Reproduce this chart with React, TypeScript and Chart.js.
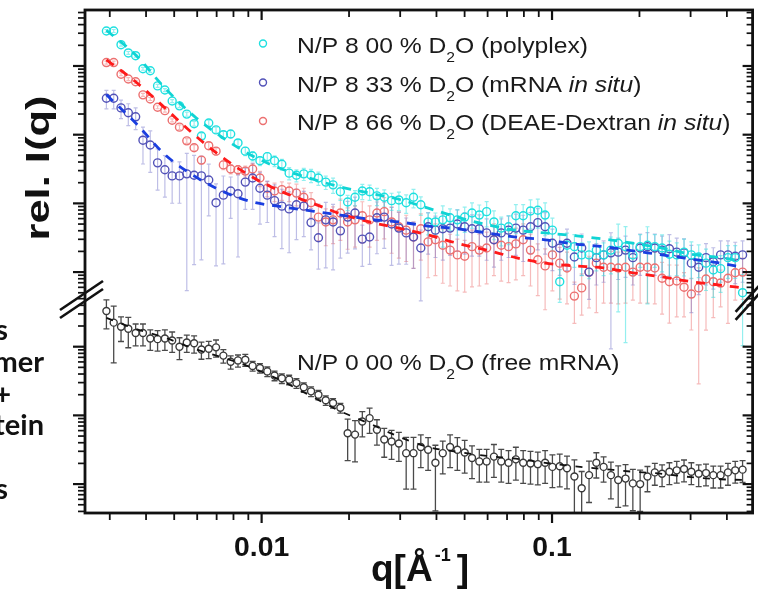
import React, { useEffect, useRef } from 'react';
import { Chart, registerables } from 'chart.js';

Chart.register(...registerables);

// q grid [1/Å] shared by all four curves
const Q = [
  0.002921, 0.003095, 0.00328, 0.003475, 0.003683, 0.003903, 0.004136, 0.004383, 0.004644, 0.00492,
  0.005214, 0.005525, 0.005855, 0.006204, 0.006575, 0.006967, 0.007384, 0.007824, 0.008291, 0.008786,
  0.009311, 0.009867, 0.01046, 0.01108, 0.01174, 0.01244, 0.01318, 0.01397, 0.0148, 0.01569,
  0.01663, 0.01762, 0.01867, 0.01978, 0.02097, 0.02222, 0.02354, 0.02495, 0.02644, 0.02802,
  0.02969, 0.03146, 0.03334, 0.03533, 0.03744, 0.03967, 0.04205, 0.04456, 0.04721, 0.05003,
  0.05302, 0.05618, 0.05954, 0.06309, 0.06685, 0.07084, 0.07507, 0.07955, 0.08431, 0.08933,
  0.09467, 0.1003, 0.1063, 0.1126, 0.1194, 0.1265, 0.1341, 0.1421, 0.1505, 0.1595,
  0.169, 0.1791, 0.1898, 0.2011, 0.2131, 0.2259, 0.2393, 0.2536, 0.2688, 0.2848,
  0.3018, 0.3199, 0.339, 0.3592, 0.3806, 0.4034, 0.4274, 0.453,
];

// log10 of rel. I(q) (upper panel)
const CYAN_LOG_I = [
  4.51, 4.51, 4.31, 4.19, 4.15, 3.96, 3.93, 3.71, 3.65, 3.49,
  3.42, 3.3, 3.16, 2.98, 3.17, 3.07, 3.0, 3.01, 2.88, 2.76,
  2.69, 2.62, 2.68, 2.62, 2.57, 2.44, 2.41, 2.43, 2.41, 2.37,
  2.31, 2.27, 2.17, 2.02, 2.09, 2.18, 2.17, 2.11, 2.09, 2.04,
  2.05, 2.01, 2.09, 1.98, 1.73, 1.73, 1.76, 1.79, 1.76, 1.8,
  1.86, 1.83, 1.88, 1.73, 1.64, 1.66, 1.82, 1.82, 1.89, 1.9,
  1.83, 1.61, 0.86, 1.39, 1.37, 1.25, 1.25, 1.32, 1.25, 1.32,
  1.42, 1.37, 1.25, 1.37, 1.39, 1.37, 1.35, 1.26, 1.25, 1.29,
  1.25, 1.22, 1.13, 1.03, 1.05, 1.21, 1.21, 0.7,
];
const BLUE_LOG_I = [
  3.53, 3.53, 3.39, 3.32, 3.26, 2.92, 2.85, 2.59, 2.49, 2.4,
  2.4, 2.43, 2.41, 2.4, 2.34, 2.01, 2.12, 2.18, 2.14, 2.31,
  2.37, 2.22, 2.12, 2.04, 1.96, 1.92, 1.98, 1.96, 1.72, 1.5,
  1.76, 1.73, 1.6, 1.8, 1.86, 1.48, 1.51, 1.79, 1.8, 1.7,
  1.64, 1.57, 1.51, 1.35, 1.66, 1.61, 1.63, 1.64, 1.7, 1.66,
  1.63, 1.63, 1.57, 1.47, 1.57, 1.61, 1.64, 1.61, 1.66, 1.72,
  1.66, 1.42, 1.35, 1.42, 1.22, 1.35, 1.0, 1.21, 1.25, 1.28,
  1.29, 1.32, 1.21, 1.35, 1.37, 1.35, 1.32, 1.34, 1.29, 1.28,
  1.13, 1.07, 1.21, 1.15, 1.25, 1.25, 1.23, 1.25,
];
const RED_LOG_I = [
  4.05, 4.05, 3.88, 3.81, 3.77, 3.58, 3.52, 3.4, 3.35, 3.21,
  3.11, 2.91, 2.81, 2.63, 2.84, 2.76, 2.56, 2.5, 2.49, 2.47,
  2.5, 2.37, 2.22, 2.18, 2.2, 2.18, 2.15, 2.09, 2.01, 1.8,
  1.73, 1.76, 1.86, 1.73, 1.76, 1.82, 1.76, 1.86, 1.88, 1.73,
  1.66, 1.61, 1.51, 1.63, 1.44, 1.47, 1.39, 1.32, 1.25, 1.23,
  1.37, 1.32, 1.35, 1.47, 1.39, 1.37, 1.41, 1.47, 1.32, 1.18,
  1.09, 1.25, 1.13, 1.06, 0.65, 0.77, 1.0, 1.13, 1.07, 1.07,
  1.06, 1.07, 1.0, 1.07, 1.07, 1.06, 0.91, 0.86, 0.87, 0.78,
  0.68, 0.77, 0.9, 0.86, 0.84, 0.91, 0.99, 1.0,
];
// log10 of rel. I(q), lower panel (free mRNA)
const BLACK_LOG_I = [
  3.52, 3.35, 3.29, 3.26, 3.2, 3.2, 3.12, 3.11, 3.12, 3.09,
  3.0, 3.06, 3.05, 2.96, 2.97, 2.99, 2.87, 2.78, 2.8, 2.81,
  2.72, 2.69, 2.64, 2.58, 2.54, 2.52, 2.47, 2.41, 2.35, 2.3,
  2.22, 2.18, 2.11, 1.74, 1.72, 1.91, 1.96, 1.79, 1.65, 1.62,
  1.59, 1.45, 1.45, 1.54, 1.5, 1.31, 1.45, 1.54, 1.5, 1.46,
  1.38, 1.33, 1.33, 1.4, 1.33, 1.31, 1.36, 1.31, 1.3, 1.29,
  1.31, 1.25, 1.26, 1.23, 1.11, 0.94, 1.13, 1.31, 1.25, 1.13,
  1.06, 1.08, 1.01, 1.0, 1.11, 1.17, 1.15, 1.18, 1.2, 1.22,
  1.18, 1.15, 1.16, 1.13, 1.13, 1.17, 1.2, 1.21,
];

// relative errors sigma / I
const CYAN_REL_ERR = [
  0.05, 0.05, 0.05, 0.05, 0.05, 0.05, 0.05, 0.05, 0.05, 0.05,
  0.06, 0.07, 0.08, 0.1, 0.1, 0.1, 0.12, 0.12, 0.12, 0.14,
  0.15, 0.15, 0.15, 0.18, 0.18, 0.2, 0.2, 0.2, 0.22, 0.22,
  0.22, 0.25, 0.25, 0.25, 0.25, 0.25, 0.25, 0.28, 0.28, 0.28,
  0.3, 0.3, 0.3, 0.3, 0.35, 0.35, 0.6, 0.35, 0.4, 0.4,
  0.4, 0.4, 0.4, 0.45, 0.45, 0.45, 0.45, 0.45, 0.45, 0.45,
  0.5, 0.5, 0.5, 0.5, 0.5, 0.5, 0.55, 0.5, 0.5, 0.55,
  0.9, 0.96, 0.5, 0.5, 0.86, 0.5, 0.55, 0.55, 0.5, 0.55,
  0.55, 0.5, 0.6, 0.6, 0.55, 0.5, 0.5, 0.83,
];
const BLUE_REL_ERR = [
  0.3, 0.3, 0.3, 0.35, 0.35, 0.55, 0.6, 0.6, 0.6, 0.6,
  0.6, 0.98, 0.95, 0.94, 0.7, 0.88, 0.9, 0.6, 0.88, 0.6,
  0.65, 0.7, 0.6, 0.7, 0.76, 0.77, 0.69, 0.64, 0.6, 0.65,
  0.8, 0.8, 0.6, 0.7, 0.7, 0.6, 0.6, 0.7, 0.65, 0.75,
  0.7, 0.65, 0.65, 0.83, 0.6, 0.6, 0.65, 0.6, 0.6, 0.6,
  0.6, 0.6, 0.6, 0.6, 0.6, 0.6, 0.6, 0.65, 0.6, 0.6,
  0.6, 0.6, 0.6, 0.6, 0.6, 0.6, 0.6, 0.6, 0.6, 0.96,
  0.6, 0.6, 0.6, 0.6, 0.6, 0.6, 0.6, 0.6, 0.6, 0.6,
  0.81, 0.6, 0.6, 0.6, 0.6, 0.6, 0.6, 0.6,
];
const RED_REL_ERR = [
  0.05, 0.05, 0.05, 0.05, 0.05, 0.05, 0.05, 0.05, 0.05, 0.05,
  0.08, 0.08, 0.1, 0.12, 0.12, 0.12, 0.15, 0.15, 0.15, 0.18,
  0.2, 0.25, 0.25, 0.3, 0.3, 0.3, 0.35, 0.35, 0.4, 0.55,
  0.55, 0.55, 0.6, 0.6, 0.6, 0.6, 0.6, 0.6, 0.6, 0.65,
  0.65, 0.65, 0.65, 0.65, 0.7, 0.7, 0.72, 0.7, 0.7, 0.7,
  0.74, 0.7, 0.7, 0.7, 0.7, 0.7, 0.7, 0.7, 0.7, 0.7,
  0.77, 0.7, 0.7, 0.7, 0.6, 0.6, 0.7, 0.81, 0.7, 0.7,
  0.7, 0.7, 0.61, 0.7, 0.7, 0.7, 0.7, 0.75, 0.7, 0.63,
  0.7, 0.96, 0.82, 0.7, 0.55, 0.78, 0.6, 0.6,
];
const BLACK_REL_ERR = [
  0.45, 0.74, 0.39, 0.47, 0.35, 0.35, 0.33, 0.33, 0.33, 0.33,
  0.35, 0.28, 0.28, 0.28, 0.28, 0.28, 0.22, 0.22, 0.2, 0.2,
  0.16, 0.16, 0.16, 0.16, 0.16, 0.16, 0.16, 0.16, 0.16, 0.16,
  0.16, 0.16, 0.16, 0.6, 0.6, 0.4, 0.4, 0.4, 0.45, 0.45,
  0.45, 0.7, 0.7, 0.5, 0.5, 0.8, 0.5, 0.5, 0.5, 0.5,
  0.5, 0.5, 0.5, 0.5, 0.5, 0.5, 0.5, 0.5, 0.5, 0.5,
  0.5, 0.5, 0.5, 0.5, 0.75, 0.75, 0.6, 0.4, 0.4, 0.55,
  0.6, 0.6, 0.6, 0.6, 0.4, 0.35, 0.35, 0.35, 0.35, 0.35,
  0.35, 0.35, 0.35, 0.35, 0.35, 0.35, 0.35, 0.35,
];

// model fits (dashed), sampled on a coarser q grid
const FIT_Q = [
  0.002921, 0.003683, 0.004644, 0.005855, 0.007384, 0.009311, 0.01174, 0.0148, 0.01867, 0.02354,
  0.02969, 0.03744, 0.04721, 0.05954, 0.07507, 0.09467, 0.1194, 0.1505, 0.1898, 0.2393,
  0.3018, 0.3806, 0.453,
];
const CYAN_FIT_LOG_I = [4.52, 4.16, 3.68, 3.27, 2.95, 2.69, 2.5, 2.36, 2.24, 2.15, 2.06, 1.93, 1.8, 1.69, 1.61, 1.57, 1.53, 1.48, 1.42, 1.35, 1.26, 1.21, 1.16];
const BLUE_FIT_LOG_I = [3.58, 3.17, 2.71, 2.4, 2.17, 2.02, 1.95, 1.89, 1.83, 1.77, 1.73, 1.67, 1.63, 1.57, 1.51, 1.47, 1.41, 1.37, 1.31, 1.25, 1.19, 1.13, 1.07];
const RED_FIT_LOG_I = [4.09, 3.77, 3.39, 3.0, 2.66, 2.38, 2.17, 2.01, 1.85, 1.73, 1.64, 1.54, 1.42, 1.32, 1.21, 1.13, 1.09, 1.06, 0.99, 0.93, 0.86, 0.81, 0.77];
const BLACK_FIT_LOG_I = [3.42, 3.26, 3.13, 2.97, 2.84, 2.69, 2.5, 2.28, 2.06, 1.88, 1.69, 1.54, 1.47, 1.41, 1.37, 1.31, 1.26, 1.22, 1.18, 1.15, 1.1, 1.07, 1.06];

// axes
const X_MIN = 0.002465;
const X_MAX = 0.4905;
const X_MAJOR_TICKS = [0.01, 0.1];
const X_MINOR_TICKS = [0.003, 0.004, 0.005, 0.006, 0.007, 0.008, 0.009, 0.02, 0.03, 0.04, 0.05, 0.06, 0.07, 0.08, 0.09, 0.2, 0.3, 0.4];
const X_TICK_LABELS = ['0.01', '0.1'];
const UPPER_LOG_MIN = -2.507;
const UPPER_LOG_MAX = 4.815;
const LOWER_LOG_MIN = 0.579;
const LOWER_LOG_MAX = 7.901;
const UPPER_DECADES = [1, 10, 100, 1000, 10000];
const LOWER_DECADES = [1, 10, 100, 1000];
const BREAK_VALUE_UPPER = 4.34; // axis break (upper-panel units)

const LEGEND_ITEMS = [
  [{ t: 'N/P 8 00 % D' }, { t: '2', sub: true }, { t: 'O (polyplex)' }],
  [{ t: 'N/P 8 33 % D' }, { t: '2', sub: true }, { t: 'O (mRNA ' }, { t: 'in situ', it: true }, { t: ')' }],
  [{ t: 'N/P 8 66 % D' }, { t: '2', sub: true }, { t: 'O (DEAE-Dextran ' }, { t: 'in situ', it: true }, { t: ')' }],
];
const ANNOTATION = [{ t: 'N/P 0 00 % D' }, { t: '2', sub: true }, { t: 'O (free mRNA)' }];
const LEFT_FRAGMENTS = [
  { t: 's', x: 8, y: 340 },
  { t: 'mer', x: 44, y: 372 },
  { t: '+', x: 11, y: 404 },
  { t: 'tein', x: 44, y: 435 },
  { t: 's', x: 8, y: 499 },
];

const CYAN = '#1fe0e0';
const BLUE = '#5252b8';
const RED = '#ec7070';

const pts = (qs: number[], logs: number[]) => qs.map((q, i) => ({ x: q, y: Math.pow(10, logs[i]) }));

type Seg = { t: string; sub?: boolean; it?: boolean };
const SANS = '"Liberation Sans", Arial, sans-serif';
function segFont(s: Seg, size: number) {
  const sz = s.sub ? Math.round(size * 0.64) : size;
  return `${s.it ? 'italic ' : ''}${sz}px ${SANS}`;
}
function richWidth(ctx: CanvasRenderingContext2D, segs: Seg[], size: number) {
  let w = 0;
  for (const s of segs) {
    ctx.font = segFont(s, size);
    w += ctx.measureText(s.t).width;
  }
  return w;
}
function drawRich(ctx: CanvasRenderingContext2D, segs: Seg[], x: number, y: number, size: number, sx: number) {
  ctx.save();
  ctx.translate(x, y);
  ctx.scale(sx, 1);
  ctx.textAlign = 'left';
  ctx.textBaseline = 'alphabetic';
  let cx = 0;
  for (const s of segs) {
    ctx.font = segFont(s, size);
    ctx.fillText(s.t, cx, s.sub ? size * 0.42 : 0);
    cx += ctx.measureText(s.t).width;
  }
  ctx.restore();
}

const ERROR_DEFS = [
  { axis: 'y2', logs: BLACK_LOG_I, rel: BLACK_REL_ERR, color: '#4a4a4a', width: 1.3, cap: 3 },
  { axis: 'y', logs: RED_LOG_I, rel: RED_REL_ERR, color: 'rgba(238,120,120,0.5)', width: 1.2, cap: 2 },
  { axis: 'y', logs: BLUE_LOG_I, rel: BLUE_REL_ERR, color: 'rgba(110,110,200,0.45)', width: 1.2, cap: 2 },
  { axis: 'y', logs: CYAN_LOG_I, rel: CYAN_REL_ERR, color: 'rgba(60,225,225,0.55)', width: 1.2, cap: 2 },
];

const decorPlugin = {
  id: 'decor',
  beforeDatasetsDraw(chart: any) {
    const ctx = chart.ctx as CanvasRenderingContext2D;
    const { left, right, top, bottom } = chart.chartArea;
    const xs = chart.scales.x;
    ctx.save();
    ctx.beginPath();
    ctx.rect(left, top, right - left, bottom - top);
    ctx.clip();
    for (const e of ERROR_DEFS) {
      const ys = chart.scales[e.axis];
      ctx.strokeStyle = e.color;
      ctx.lineWidth = e.width;
      e.logs.forEach((lg: number, i: number) => {
        const v = Math.pow(10, lg);
        const r = e.rel[i];
        const x = xs.getPixelForValue(Q[i]);
        const y1 = ys.getPixelForValue(v * (1 + r));
        const y2 = ys.getPixelForValue(Math.max(v * (1 - r), v * 1e-3));
        ctx.beginPath();
        ctx.moveTo(x, y1);
        ctx.lineTo(x, y2);
        ctx.moveTo(x - e.cap, y1);
        ctx.lineTo(x + e.cap, y1);
        ctx.moveTo(x - e.cap, y2);
        ctx.lineTo(x + e.cap, y2);
        ctx.stroke();
      });
    }
    ctx.restore();
  },
  afterDraw(chart: any) {
    const ctx = chart.ctx as CanvasRenderingContext2D;
    const { left, right, top, bottom } = chart.chartArea;
    const xs = chart.scales.x;
    const yu = chart.scales.y;
    const yl = chart.scales.y2;
    const yBreak = yu.getPixelForValue(BREAK_VALUE_UPPER);
    const line = (x1: number, y1: number, x2: number, y2: number) => {
      ctx.beginPath();
      ctx.moveTo(x1, y1);
      ctx.lineTo(x2, y2);
      ctx.stroke();
    };
    ctx.save();
    ctx.strokeStyle = '#111';
    ctx.fillStyle = '#111';
    ctx.lineCap = 'butt';
    // frame
    ctx.lineWidth = 2.8;
    ctx.strokeRect(left, top, right - left, bottom - top);
    // x ticks (bottom outward, top inward)
    const xt = (q: number, len: number, w: number) => {
      const x = xs.getPixelForValue(q);
      ctx.lineWidth = w;
      line(x, bottom, x, bottom + len);
      line(x, top, x, top + len);
    };
    X_MAJOR_TICKS.forEach((q) => xt(q, 10, 2.2));
    X_MINOR_TICKS.forEach((q) => xt(q, 7, 1.8));
    // y ticks (left outward, right inward)
    const yt = (scale: any, decades: number[], y0: number, y1: number) => {
      for (const d of decades) {
        for (let k = 1; k <= 9; k++) {
          const y = scale.getPixelForValue(d * k);
          if (y < y0 || y > y1) continue;
          const major = k === 1;
          ctx.lineWidth = major ? 2.2 : 1.7;
          line(left - (major ? 12 : 7), y, left, y);
          line(right, y, right - (major ? 10 : 6), y);
        }
      }
    };
    yt(yu, UPPER_DECADES, top + 1, yBreak - 1);
    yt(yl, LOWER_DECADES, yBreak + 1, bottom - 1);
    // axis break marks
    ctx.lineWidth = 2.6;
    for (const off of [-4, 4]) {
      line(left - 25, yBreak + off + 17, left + 18, yBreak + off - 12);
      line(right - 17, yBreak + off + 19, right + 17, yBreak + off - 19);
    }
    // tick labels
    ctx.fillStyle = '#111';
    ctx.font = `bold 27px ${SANS}`;
    ctx.textAlign = 'center';
    ctx.textBaseline = 'alphabetic';
    X_MAJOR_TICKS.forEach((q, i) => {
      const x = xs.getPixelForValue(q);
      ctx.save();
      ctx.translate(x, 556);
      ctx.scale(1.05, 1);
      ctx.fillText(X_TICK_LABELS[i], 0, 0);
      ctx.restore();
    });
    // x title: q[Å^-1]
    ctx.textAlign = 'left';
    ctx.font = `bold 37px ${SANS}`;
    const tx = 371;
    ctx.fillText('q[Å', tx, 581);
    const w1 = ctx.measureText('q[Å').width;
    ctx.font = `bold 18px ${SANS}`;
    ctx.fillText('-1', tx + w1 + 2, 561);
    const w2 = ctx.measureText('-1').width;
    ctx.font = `bold 37px ${SANS}`;
    ctx.fillText(']', tx + w1 + 2 + w2 + 6, 581);
    // y title
    ctx.save();
    ctx.translate(49, 168);
    ctx.rotate(-Math.PI / 2);
    ctx.font = `bold 33px ${SANS}`;
    const yw = ctx.measureText('rel. I(q)').width;
    ctx.scale(145 / yw, 1);
    ctx.textAlign = 'center';
    ctx.fillText('rel. I(q)', 0, 0);
    ctx.restore();
    // legend
    const lsize = 22;
    const sx = 291 / richWidth(ctx, LEGEND_ITEMS[0], lsize);
    const legendY = [53, 92, 130];
    const markY = [43.5, 82.5, 121];
    const legendColors = [CYAN, BLUE, RED];
    LEGEND_ITEMS.forEach((segs, i) => {
      ctx.fillStyle = '#1a1a1a';
      drawRich(ctx, segs, 297, legendY[i], lsize, sx);
      ctx.strokeStyle = legendColors[i];
      ctx.lineWidth = 1.4;
      ctx.beginPath();
      ctx.arc(263, markY[i], 3.5, 0, Math.PI * 2);
      ctx.stroke();
    });
    ctx.fillStyle = '#1a1a1a';
    drawRich(ctx, ANNOTATION, 297, 370, lsize, sx);
    // cropped text fragments at the left edge
    ctx.fillStyle = '#111';
    ctx.font = 'bold 29px Lato, "Open Sans", sans-serif';
    ctx.textAlign = 'right';
    for (const f of LEFT_FRAGMENTS) {
      ctx.fillText(f.t, f.x, f.y);
    }
    ctx.restore();
  },
};

export default function App() {
  const ref = useRef<HTMLCanvasElement>(null);
  useEffect(() => {
    if (!ref.current) return;
    const markers = (label: string, logs: number[], color: string, axis: string, fill: string, r: number) => ({
      label,
      data: pts(Q, logs),
      yAxisID: axis,
      showLine: false,
      pointStyle: 'circle',
      pointRadius: r,
      pointBorderWidth: 1.4,
      pointBorderColor: color,
      pointBackgroundColor: fill,
      borderColor: color,
      backgroundColor: fill,
      order: 2,
    });
    const fit = (label: string, logs: number[], color: string, axis: string, width: number, dash: number[]) => ({
      label,
      data: pts(FIT_Q, logs),
      yAxisID: axis,
      showLine: true,
      pointRadius: 0,
      borderColor: color,
      borderWidth: width,
      borderDash: dash,
      cubicInterpolationMode: 'monotone',
      fill: false,
      order: 1,
    });
    const chart = new Chart(ref.current, {
      type: 'scatter',
      data: {
        datasets: [
          fit('fit polyplex', CYAN_FIT_LOG_I, '#10d4d4', 'y', 2.8, [9, 8]),
          fit('fit mRNA in situ', BLUE_FIT_LOG_I, '#1a3ee0', 'y', 2.8, [9, 8]),
          fit('fit DEAE-Dextran in situ', RED_FIT_LOG_I, '#ff1a1a', 'y', 2.8, [9, 8]),
          fit('fit free mRNA', BLACK_FIT_LOG_I, '#111111', 'y2', 1.8, [7, 9]),
          markers('N/P 8 00 % D2O (polyplex)', CYAN_LOG_I, CYAN, 'y', 'rgba(0,0,0,0)', 4),
          markers('N/P 8 33 % D2O (mRNA in situ)', BLUE_LOG_I, BLUE, 'y', 'rgba(0,0,0,0)', 4),
          markers('N/P 8 66 % D2O (DEAE-Dextran in situ)', RED_LOG_I, RED, 'y', 'rgba(0,0,0,0)', 4),
          markers('N/P 0 00 % D2O (free mRNA)', BLACK_LOG_I, '#3a3a3a', 'y2', '#ffffff', 3.5),
        ],
      } as any,
      options: {
        responsive: false,
        devicePixelRatio: 1,
        animation: false,
        layout: { padding: { left: 85, top: 10, right: 4, bottom: 79 } },
        plugins: { legend: { display: false }, tooltip: { enabled: false } },
        scales: {
          x: { type: 'logarithmic', min: X_MIN, max: X_MAX, display: false },
          y: { type: 'logarithmic', min: Math.pow(10, UPPER_LOG_MIN), max: Math.pow(10, UPPER_LOG_MAX), display: false },
          y2: { type: 'logarithmic', min: Math.pow(10, LOWER_LOG_MIN), max: Math.pow(10, LOWER_LOG_MAX), display: false },
        },
      } as any,
      plugins: [decorPlugin],
    });
    return () => chart.destroy();
  }, []);
  return (
    <div style={{ position: 'fixed', left: 0, top: 0, width: 758, height: 592, background: '#fff' }}>
      <canvas ref={ref} width={758} height={592} style={{ width: 758, height: 592, display: 'block' }} />
    </div>
  );
}
